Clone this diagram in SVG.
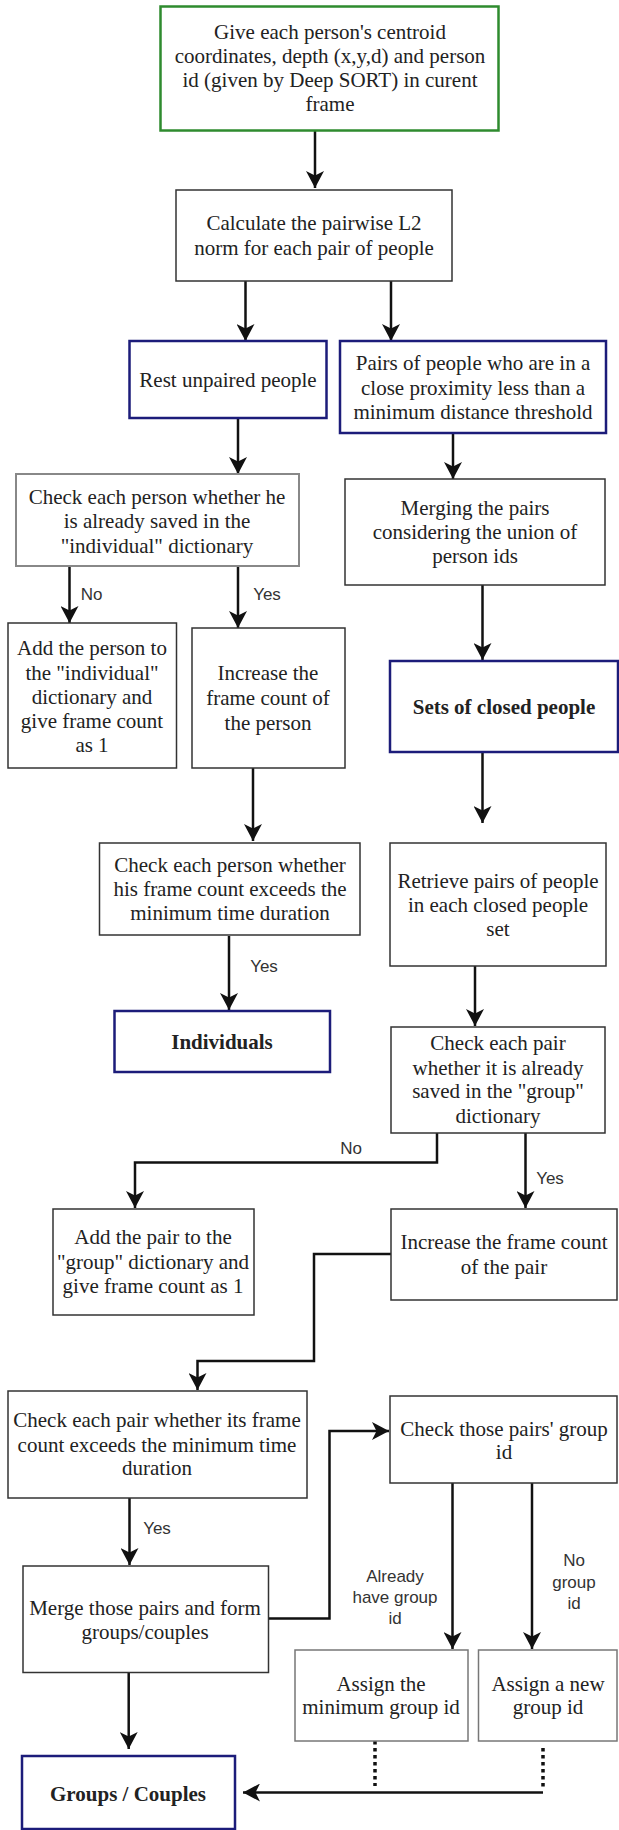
<svg xmlns="http://www.w3.org/2000/svg" width="619" height="1830" viewBox="0 0 619 1830">
<defs>
<style>
.b{fill:#fff;stroke:#333;stroke-width:1.5}
.nav{fill:#fff;stroke:#1c1c7a;stroke-width:2.5}
.grn{fill:#fff;stroke:#2e8b2e;stroke-width:2.5}
.gry{fill:#fff;stroke:#888;stroke-width:2}
.g2{fill:#fff;stroke:#777;stroke-width:1.5}
.t{font-family:"Liberation Serif","Times New Roman",serif;font-size:21px;fill:#222;text-anchor:middle}
.tb{font-weight:bold}
.l{font-family:"Liberation Sans",Arial,sans-serif;font-size:17px;fill:#333;text-anchor:middle}
.c{fill:none;stroke:#111;stroke-width:2.5}
.a{marker-end:url(#arr)}
.d{stroke-dasharray:3.5 3.5;stroke-width:3.5}
</style>
<marker id="arr" viewBox="0 0 17 18" refX="17" refY="9" markerWidth="17" markerHeight="18" markerUnits="userSpaceOnUse" orient="auto">
<path d="M0,0 L17,9 L0,18 L4.5,9 Z" fill="#111"/>
</marker>
</defs>

<g id="connectors">
<path class="c a" d="M315,130 V188"/>
<path class="c a" d="M245.5,281 V341"/>
<path class="c a" d="M391,281 V341"/>
<path class="c a" d="M238,418 V474"/>
<path class="c a" d="M453,433 V479"/>
<path class="c a" d="M69.5,566 V623"/>
<path class="c a" d="M238,566 V628"/>
<path class="c a" d="M253,768 V841"/>
<path class="c a" d="M482.5,585 V660"/>
<path class="c a" d="M482.5,752 V823"/>
<path class="c a" d="M229,936 V1010"/>
<path class="c a" d="M475,966 V1026"/>
<path class="c a" d="M437,1133 V1162.5 H135 V1208"/>
<path class="c a" d="M525.5,1133 V1208"/>
<path class="c a" d="M391,1254 H314 V1361 H197.5 V1390"/>
<path class="c a" d="M129.5,1498 V1565"/>
<path class="c a" d="M268.5,1618.5 H329.5 V1431 H389"/>
<path class="c a" d="M452.5,1483 V1649"/>
<path class="c a" d="M532,1483 V1649"/>
<path class="c d" d="M375,1741 V1786"/>
<path class="c d" d="M543,1748 V1790"/>
<path class="c a" d="M543,1792.5 H243"/>
<path class="c a" d="M128.7,1672.5 V1749"/>
<text class="l" x="91.5" y="600">No</text>
<text class="l" x="267" y="600">Yes</text>
<text class="l" x="264" y="972">Yes</text>
<text class="l" x="351" y="1154">No</text>
<text class="l" x="550" y="1184">Yes</text>
<text class="l" x="157" y="1534">Yes</text>
<text class="l" x="395" y="1581.5">Already</text>
<text class="l" x="395" y="1602.8">have group</text>
<text class="l" x="395" y="1623.8">id</text>
<text class="l" x="574" y="1566.3">No</text>
<text class="l" x="574" y="1587.6">group</text>
<text class="l" x="574" y="1608.6">id</text>
</g>

<g id="n1"><rect class="grn" x="160.5" y="6.5" width="338" height="124"/>
<text class="t" x="330" y="39">Give each person's centroid</text>
<text class="t" x="330" y="63">coordinates, depth (x,y,d) and person</text>
<text class="t" x="330" y="87">id (given by Deep SORT) in curent</text>
<text class="t" x="330" y="111">frame</text></g>

<g id="n2"><rect class="b" x="176" y="190" width="276" height="91"/>
<text class="t" x="314" y="230">Calculate the pairwise L2</text>
<text class="t" x="314" y="255">norm for each pair of people</text></g>

<g id="n3"><rect class="nav" x="129.5" y="341" width="197" height="77"/>
<text class="t" x="228" y="387">Rest unpaired people</text></g>

<g id="n4"><rect class="nav" x="340" y="341" width="266" height="92"/>
<text class="t" x="473" y="370">Pairs of people who are in a</text>
<text class="t" x="473" y="395">close proximity less than a</text>
<text class="t" x="473" y="419">minimum distance threshold</text></g>

<g id="n5"><rect class="gry" x="16" y="474" width="283" height="92"/>
<text class="t" x="157" y="504">Check each person whether he</text>
<text class="t" x="157" y="528">is already saved in the</text>
<text class="t" x="157" y="553">"individual" dictionary</text></g>

<g id="n6"><rect class="b" x="345" y="479" width="260" height="106"/>
<text class="t" x="475" y="515">Merging the pairs</text>
<text class="t" x="475" y="539">considering the union of</text>
<text class="t" x="475" y="563">person ids</text></g>

<g id="n7"><rect class="b" x="8" y="623" width="168.5" height="145"/>
<text class="t" x="92" y="655">Add the person to</text>
<text class="t" x="92" y="680">the "individual"</text>
<text class="t" x="92" y="704">dictionary and</text>
<text class="t" x="92" y="728">give frame count</text>
<text class="t" x="92" y="752">as 1</text></g>

<g id="n8"><rect class="b" x="192" y="628" width="153" height="140"/>
<text class="t" x="268" y="680">Increase the</text>
<text class="t" x="268" y="705">frame count of</text>
<text class="t" x="268" y="730">the person</text></g>

<g id="n9"><rect class="nav" x="390" y="661" width="228" height="91"/>
<text class="t tb" x="504" y="714">Sets of closed people</text></g>

<g id="n10"><rect class="b" x="99.5" y="843" width="260.5" height="92"/>
<text class="t" x="230" y="872">Check each person whether</text>
<text class="t" x="230" y="896">his frame count exceeds the</text>
<text class="t" x="230" y="920">minimum time duration</text></g>

<g id="n11"><rect class="b" x="390" y="843" width="216" height="123"/>
<text class="t" x="498" y="888">Retrieve pairs of people</text>
<text class="t" x="498" y="912">in each closed people</text>
<text class="t" x="498" y="936">set</text></g>

<g id="n12"><rect class="nav" x="114.5" y="1011" width="215.5" height="61"/>
<text class="t tb" x="222" y="1049">Individuals</text></g>

<g id="n13"><rect class="b" x="391" y="1027" width="214" height="106"/>
<text class="t" x="498" y="1050">Check each pair</text>
<text class="t" x="498" y="1075">whether it is already</text>
<text class="t" x="498" y="1098">saved in the "group"</text>
<text class="t" x="498" y="1123">dictionary</text></g>

<g id="n14"><rect class="b" x="53" y="1209" width="201" height="106"/>
<text class="t" x="153" y="1244">Add the pair to the</text>
<text class="t" x="153" y="1269">"group" dictionary and</text>
<text class="t" x="153" y="1293">give frame count as 1</text></g>

<g id="n15"><rect class="b" x="391" y="1209" width="226" height="91"/>
<text class="t" x="504" y="1249">Increase the frame count</text>
<text class="t" x="504" y="1274">of the pair</text></g>

<g id="n16"><rect class="b" x="8" y="1391" width="299" height="107"/>
<text class="t" x="157" y="1427">Check each pair whether its frame</text>
<text class="t" x="157" y="1452">count exceeds the minimum time</text>
<text class="t" x="157" y="1475">duration</text></g>

<g id="n17"><rect class="b" x="390" y="1396" width="227" height="87"/>
<text class="t" x="504" y="1435.5">Check those pairs' group</text>
<text class="t" x="504" y="1458.5">id</text></g>

<g id="n18"><rect class="b" x="23" y="1566" width="245.5" height="106.5"/>
<text class="t" x="145" y="1615">Merge those pairs and form</text>
<text class="t" x="145" y="1639">groups/couples</text></g>

<g id="n19"><rect class="g2" x="295" y="1650" width="173" height="91"/>
<text class="t" x="381" y="1691">Assign the</text>
<text class="t" x="381" y="1714">minimum group id</text></g>

<g id="n20"><rect class="g2" x="478.5" y="1650" width="138.5" height="91"/>
<text class="t" x="548" y="1691">Assign a new</text>
<text class="t" x="548" y="1714">group id</text></g>

<g id="n21"><rect class="nav" x="22" y="1756" width="213" height="73"/>
<text class="t tb" x="128" y="1801">Groups / Couples</text></g>
</svg>
